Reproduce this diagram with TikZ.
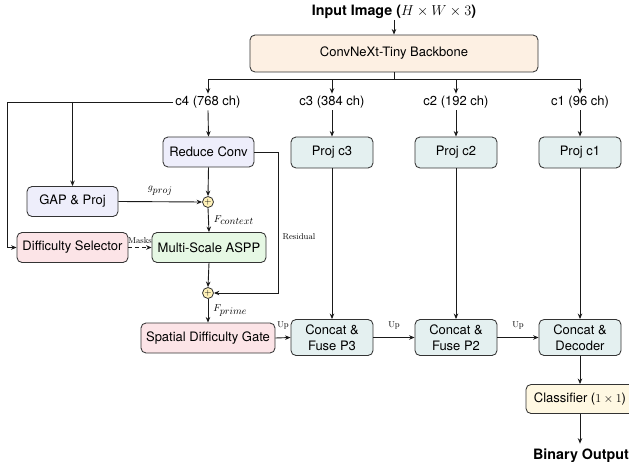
\documentclass[tikz,border=0pt]{standalone}
\usepackage{fontspec}
\setsansfont{TeX Gyre Heros}
\usetikzlibrary{arrows.meta,calc}
\definecolor{cbb}{HTML}{FDF0E3}
\definecolor{cblue}{HTML}{EEEEFB}
\definecolor{cteal}{HTML}{E4F0F0}
\definecolor{cpink}{HTML}{FCE4E7}
\definecolor{cgreen}{HTML}{E6F8E4}
\definecolor{cyel}{HTML}{FFF8E2}
\definecolor{cplus}{HTML}{FFF2B8}
\definecolor{bordc}{HTML}{333333}
\definecolor{linec}{HTML}{1A1A1A}
\tikzset{
  box/.style={draw=bordc, line width=0.85pt, rounded corners=5pt, font=\fontsize{13}{15.5}\selectfont\sffamily, align=center, inner sep=0pt},
  arr/.style={-{Stealth[length=5.5pt,width=4.5pt]}, line width=0.9pt, draw=linec},
  plain/.style={line width=0.9pt, draw=linec},
  chl/.style={font=\fontsize{13}{15}\selectfont\sffamily, inner sep=2pt},
  smallser/.style={font=\fontsize{8.5}{9}\selectfont\rmfamily, inner sep=0pt},
  mlbl/.style={font=\fontsize{10.3}{11}\selectfont, inner sep=0pt},
  big/.style={font=\fontsize{14.3}{16}\selectfont\sffamily\bfseries, inner sep=1pt},
  plus/.style={circle, draw=bordc, line width=0.8pt, fill=cplus, minimum size=11pt, inner sep=0pt, font=\fontsize{9}{9}\selectfont}
}
\begin{document}
\begin{tikzpicture}[x=1pt,y=-1pt]
\useasboundingbox (0,0) rectangle (629,462);
% nodes
\node[big] (inp) at (394,12) {Input Image ($H\times W\times 3$)};
\node[box, fill=cbb, minimum width=288pt, minimum height=37pt] (bb) at (394,53.5) {ConvNeXt-Tiny Backbone};
\node[chl] (c4) at (208,102) {c4 (768 ch)};
\node[chl] (c3) at (332,102) {c3 (384 ch)};
\node[chl] (c2) at (456,102) {c2 (192 ch)};
\node[chl] (c1) at (580,102) {c1 (96 ch)};
\node[box, fill=cblue, minimum width=91pt, minimum height=30pt] (red) at (208.5,152) {Reduce Conv};
\node[box, fill=cteal, minimum width=82pt, minimum height=31pt] (pc3) at (332,152.5) {Proj c3};
\node[box, fill=cteal, minimum width=82pt, minimum height=31pt] (pc2) at (456,152.5) {Proj c2};
\node[box, fill=cteal, minimum width=82pt, minimum height=31pt] (pc1) at (580,152.5) {Proj c1};
\node[box, fill=cblue, minimum width=91pt, minimum height=30pt] (gap) at (72.5,201.5) {GAP \& Proj};
\node[plus] (p1) at (208,202) {$+$};
\node[box, fill=cpink, minimum width=111pt, minimum height=30pt] (dsel) at (72.5,247.5) {Difficulty Selector};
\node[box, fill=cgreen, minimum width=114pt, minimum height=30pt] (aspp) at (209,247.5) {Multi-Scale ASPP};
\node[plus] (p2) at (208,293) {$+$};
\node[box, fill=cpink, minimum width=134pt, minimum height=30pt] (gate) at (208,338) {Spatial Difficulty Gate};
\node[box, fill=cteal, minimum width=82pt, minimum height=36pt] (f3) at (332,337.5) {Concat \&\\Fuse P3};
\node[box, fill=cteal, minimum width=82pt, minimum height=36pt] (f2) at (456,337.5) {Concat \&\\Fuse P2};
\node[box, fill=cteal, minimum width=82pt, minimum height=36pt] (dec) at (580,337.5) {Concat \&\\Decoder};
\node[box, fill=cyel, minimum width=108pt, minimum height=29pt] (cls) at (580,399) {Classifier ($1\times 1$)};
\node[big, anchor=base] (out) at (581,459.5) {Binary Output};
\coordinate (lx) at (7,0);
% connectors
\draw[arr] (inp.south) -- (bb.north);
\draw[plain] (bb.south) -- ++(0,7) coordinate (split);
\draw[arr] (split) -| (c4.north);
\draw[arr] (split) -| (c3.north);
\draw[arr] (split) -| (c2.north);
\draw[arr] (split) -| (c1.north);
\draw[arr] (c4.south) -- (red.north);
\draw[arr] (c3.south) -- (pc3.north);
\draw[arr] (c2.south) -- (pc2.north);
\draw[arr] (c1.south) -- (pc1.north);
\draw[arr] (c4.west) -- (c4.west -| lx) |- (dsel.west);
\draw[arr] (c4.west -| gap.north) -- (gap.north);
\draw[arr] (red.south) -- (p1.north);
\draw[arr] (gap.east) -- node[mlbl, above=6pt] {$g_{\textstyle proj}$} (p1.west);
\draw[arr] (p1.south) -- node[mlbl, right=5pt] {$F_{\textstyle context}$} (aspp.north);
\draw[arr, dashed, dash pattern=on 4pt off 3pt] (dsel.east) -- node[smallser, above=3pt] {Masks} (aspp.west);
\draw[arr] (aspp.south) -- (p2.north);
\draw[arr] (red.east) -- ++(24.5,0) |- (p2.east);
\node[smallser] (res) at (299,237) {Residual};
\draw[arr] (p2.south) -- node[mlbl, right=5pt] {$F_{\textstyle prime}$} (gate.north);
\draw[arr] (gate.east) -- node[smallser, above=8pt] {Up} (f3.west);
\draw[arr] (f3.east) -- node[smallser, above=8pt] {Up} (f2.west);
\draw[arr] (f2.east) -- node[smallser, above=8pt] {Up} (dec.west);
\draw[arr] (pc3.south) -- (f3.north);
\draw[arr] (pc2.south) -- (f2.north);
\draw[arr] (pc1.south) -- (dec.north);
\draw[arr] (dec.south) -- (cls.north);
\draw[arr, shorten >=4pt] (cls.south) -- (cls.south |- out.north);
\end{tikzpicture}
\end{document}
